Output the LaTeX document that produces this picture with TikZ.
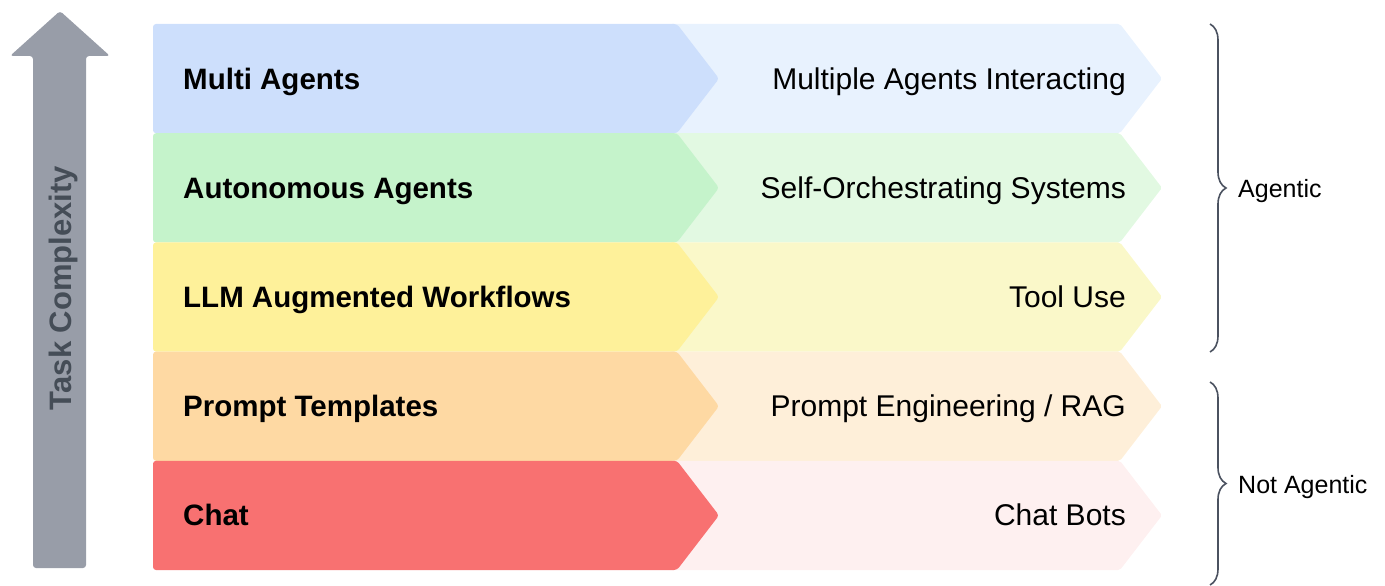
\documentclass[tikz,border=0pt]{standalone}
\usepackage{fontspec}
\setmainfont{Liberation Sans}
\usetikzlibrary{decorations.pathreplacing}
\definecolor{blueL}{HTML}{CDDFFC}
\definecolor{blueR}{HTML}{E8F2FE}
\definecolor{greenL}{HTML}{C5F3CB}
\definecolor{greenR}{HTML}{E2F9E2}
\definecolor{yellowL}{HTML}{FEF19A}
\definecolor{yellowR}{HTML}{FAF8C9}
\definecolor{orangeL}{HTML}{FED9A3}
\definecolor{orangeR}{HTML}{FEEFD9}
\definecolor{redL}{HTML}{F87171}
\definecolor{redR}{HTML}{FEF0F0}
\definecolor{arrowgray}{HTML}{989DA8}
\definecolor{labelgray}{HTML}{454D57}
\definecolor{bracegray}{HTML}{4B5260}
\newcommand\tierrow[6]{%
  \pgfmathsetmacro\tb{#1+109.2}%
  \pgfmathsetmacro\tm{#1+54.6}%
  \fill[#3, rounded corners=2] (670,#1) -- (1120,#1) -- (1162,\tm) -- (1120,\tb) -- (670,\tb) -- cycle;
  \fill[#2, rounded corners=3] (153,#1) -- (677,#1) -- (719,\tm) -- (677,\tb) -- (153,\tb) -- cycle;
  \node[lefttext] (#6l) at (183,\tm+10.5) {#4};
  \node[righttext] (#6r) at (1126,\tm+10.5) {#5};
}
\begin{document}
\begin{tikzpicture}[x=1pt,y=-1pt,
  lefttext/.style={anchor=base west, inner sep=0pt, font=\fontsize{29.5}{32}\selectfont\bfseries, text=black},
  righttext/.style={anchor=base east, inner sep=0pt, font=\fontsize{30}{32}\selectfont, text=black},
  sidetext/.style={anchor=base west, inner sep=0pt, font=\fontsize{25}{28}\selectfont, text=black},
  bracestyle/.style={draw=bracegray, line width=1.6pt, decorate, decoration={brace, amplitude=16pt, aspect=0.5}}]
\useasboundingbox (0,0) rectangle (1385,586);
% complexity arrow
\fill[arrowgray, rounded corners=3] (60,11) -- (110,56) -- (86,56) -- (86,568) -- (33,568) -- (33,56) -- (10,56) -- cycle;
\node[rotate=90, anchor=base, inner sep=0pt, font=\fontsize{31}{33}\selectfont\bfseries, text=labelgray] (tc) at (71,288) {Task Complexity};
% tiers
\tierrow{24}{blueL}{blueR}{Multi Agents}{Multiple Agents Interacting}{ma}
\tierrow{133.2}{greenL}{greenR}{Autonomous Agents}{Self-Orchestrating Systems}{aa}
\tierrow{242.4}{yellowL}{yellowR}{LLM Augmented Workflows}{Tool Use}{lw}
\tierrow{351.6}{orangeL}{orangeR}{Prompt Templates}{Prompt Engineering / RAG}{pt}
\tierrow{460.8}{redL}{redR}{Chat}{Chat Bots}{ch}
% braces
\coordinate (agtop) at (1210,24);
\coordinate (agbot) at (1210,352);
\coordinate (natop) at (1210,382);
\coordinate (nabot) at (1210,585);
\draw[bracestyle] (agtop) -- (agbot);
\draw[bracestyle] (natop) -- (nabot);
\node[sidetext] (agentic) at (1238,197) {Agentic};
\node[sidetext] (notagentic) at (1238,493) {Not Agentic};
\end{tikzpicture}
\end{document}
